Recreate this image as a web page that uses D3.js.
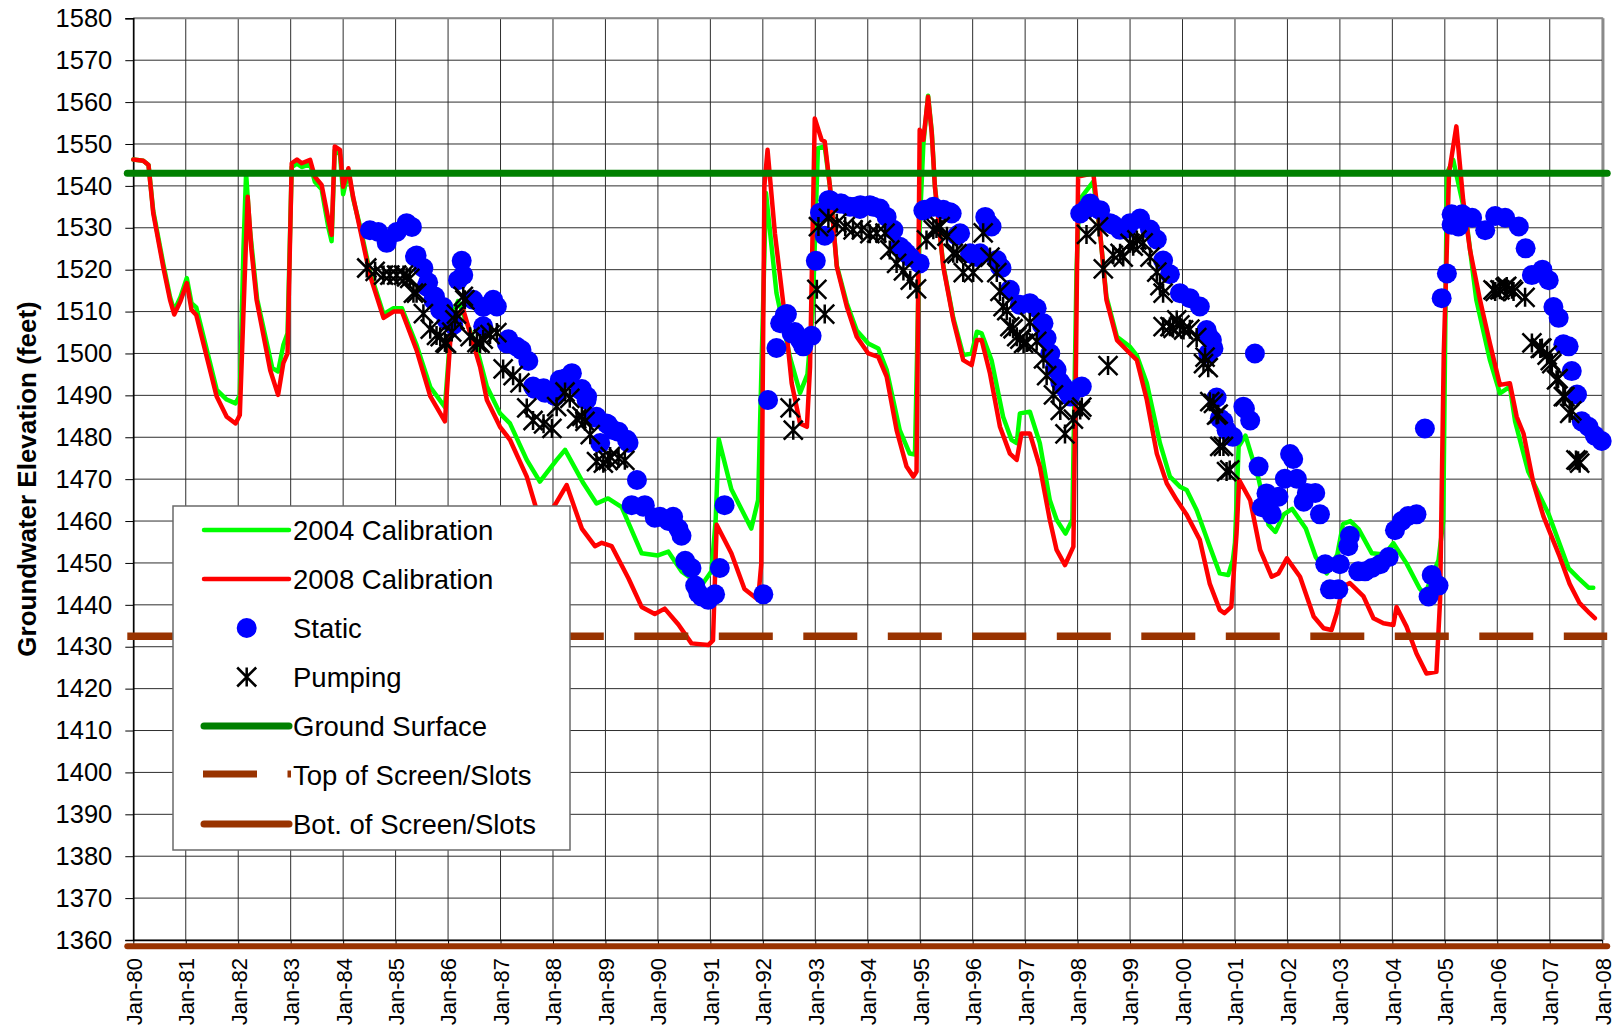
<!DOCTYPE html>
<html><head><meta charset="utf-8">
<script src="https://cdn.jsdelivr.net/npm/d3@7"></script>
<style>
html,body{margin:0;padding:0;background:#fff;}
svg{display:block;font-family:"Liberation Sans",Arial,sans-serif;}
</style></head>
<body><svg id="chart" width="1615" height="1030"></svg>
<script>
// ---------------- data ----------------
const xTickLabels = ["Jan-80","Jan-81","Jan-82","Jan-83","Jan-84","Jan-85","Jan-86","Jan-87","Jan-88","Jan-89","Jan-90","Jan-91","Jan-92","Jan-93","Jan-94","Jan-95","Jan-96","Jan-97","Jan-98","Jan-99","Jan-00","Jan-01","Jan-02","Jan-03","Jan-04","Jan-05","Jan-06","Jan-07","Jan-08"];
const xTickYears = [1980,1981,1982,1983,1984,1985,1986,1987,1988,1989,1990,1991,1992,1993,1994,1995,1996,1997,1998,1999,2000,2001,2002,2003,2004,2005,2006,2007,2008];
const yTickValues = [1360,1370,1380,1390,1400,1410,1420,1430,1440,1450,1460,1470,1480,1490,1500,1510,1520,1530,1540,1550,1560,1570,1580];

// [decimal year, elevation ft]
const calib2004 = [[1980.00,1546.3],[1980.19,1546.0],[1980.29,1545.0],[1980.38,1534.0],[1980.57,1521.5],[1980.70,1513.5],[1980.78,1510.2],[1980.90,1513.5],[1981.02,1518.0],[1981.11,1512.0],[1981.20,1511.0],[1981.59,1491.3],[1981.78,1489.0],[1981.95,1488.1],[1982.03,1490.0],[1982.10,1525.0],[1982.15,1543.0],[1982.22,1530.0],[1982.36,1513.0],[1982.65,1496.5],[1982.76,1495.7],[1982.86,1502.0],[1982.94,1504.8],[1983.02,1544.5],[1983.12,1545.3],[1983.21,1544.5],[1983.37,1545.2],[1983.46,1541.0],[1983.59,1539.2],[1983.72,1530.0],[1983.78,1526.8],[1983.84,1548.5],[1983.94,1547.5],[1984.00,1538.0],[1984.10,1543.5],[1984.19,1537.0],[1984.32,1530.5],[1984.51,1519.5],[1984.77,1509.4],[1984.96,1510.8],[1985.12,1510.8],[1985.40,1502.0],[1985.66,1492.0],[1985.94,1487.2],[1986.07,1509.0],[1986.19,1512.5],[1986.54,1501.6],[1986.74,1492.1],[1986.99,1485.7],[1987.18,1483.3],[1987.50,1474.6],[1987.75,1469.4],[1988.07,1474.6],[1988.23,1477.0],[1988.58,1469.0],[1988.83,1464.2],[1989.05,1465.4],[1989.31,1463.3],[1989.69,1452.3],[1990.00,1451.8],[1990.20,1452.7],[1990.45,1448.0],[1990.83,1444.6],[1991.02,1448.0],[1991.10,1460.0],[1991.16,1479.5],[1991.40,1467.6],[1991.78,1458.2],[1991.91,1465.0],[1992.06,1538.3],[1992.26,1514.4],[1992.52,1499.0],[1992.71,1490.6],[1992.85,1495.0],[1992.95,1510.0],[1993.05,1549.0],[1993.18,1549.4],[1993.28,1539.8],[1993.41,1521.0],[1993.60,1512.0],[1993.79,1505.5],[1994.01,1502.4],[1994.20,1501.2],[1994.36,1496.1],[1994.61,1481.7],[1994.80,1476.1],[1994.90,1475.9],[1994.99,1530.0],[1995.06,1550.0],[1995.15,1561.5],[1995.22,1553.0],[1995.28,1540.0],[1995.44,1521.0],[1995.63,1508.5],[1995.82,1499.6],[1995.98,1500.0],[1996.08,1505.2],[1996.17,1504.8],[1996.36,1498.4],[1996.58,1484.9],[1996.74,1479.4],[1996.84,1478.6],[1996.90,1485.7],[1997.09,1486.1],[1997.28,1478.6],[1997.47,1465.0],[1997.60,1460.3],[1997.77,1457.0],[1997.90,1460.3],[1997.98,1520.0],[1998.03,1536.6],[1998.30,1541.0],[1998.43,1528.5],[1998.55,1513.5],[1998.75,1504.0],[1999.00,1501.6],[1999.13,1499.5],[1999.32,1492.9],[1999.57,1478.6],[1999.76,1470.6],[1999.95,1468.2],[2000.08,1467.4],[2000.27,1462.6],[2000.52,1453.9],[2000.71,1447.5],[2000.87,1447.1],[2000.96,1450.7],[2001.00,1454.8],[2001.07,1477.8],[2001.20,1480.4],[2001.45,1470.1],[2001.64,1459.1],[2001.77,1457.4],[2001.93,1461.6],[2002.09,1462.9],[2002.35,1458.2],[2002.54,1451.4],[2002.75,1447.5],[2002.95,1452.0],[2003.06,1459.3],[2003.20,1460.0],[2003.36,1458.0],[2003.61,1452.3],[2003.85,1452.0],[2004.02,1454.7],[2004.27,1449.9],[2004.52,1443.9],[2004.62,1442.5],[2004.88,1450.7],[2004.97,1460.0],[2005.04,1543.0],[2005.16,1546.2],[2005.41,1531.9],[2005.60,1512.8],[2005.86,1498.4],[2006.05,1490.5],[2006.24,1492.1],[2006.34,1483.8],[2006.59,1471.8],[2006.98,1461.6],[2007.36,1448.7],[2007.55,1446.3],[2007.74,1444.1],[2007.83,1444.1]];

const calib2008 = [[1980.00,1546.3],[1980.19,1546.0],[1980.29,1545.0],[1980.38,1533.5],[1980.57,1520.7],[1980.70,1512.8],[1980.78,1509.3],[1980.90,1512.5],[1981.02,1516.8],[1981.11,1510.4],[1981.20,1509.2],[1981.59,1489.7],[1981.78,1484.9],[1981.95,1483.3],[1982.03,1485.3],[1982.10,1510.0],[1982.18,1537.4],[1982.25,1525.0],[1982.35,1512.8],[1982.61,1496.0],[1982.76,1490.1],[1982.86,1497.7],[1982.94,1500.0],[1983.02,1545.4],[1983.12,1546.3],[1983.21,1545.4],[1983.37,1546.2],[1983.46,1542.2],[1983.59,1540.2],[1983.72,1531.9],[1983.78,1528.3],[1983.84,1549.4],[1983.94,1548.6],[1984.00,1539.8],[1984.10,1544.2],[1984.19,1537.4],[1984.32,1529.8],[1984.51,1518.7],[1984.77,1508.5],[1984.96,1510.0],[1985.12,1510.0],[1985.40,1500.8],[1985.66,1489.8],[1985.94,1483.8],[1986.07,1508.4],[1986.29,1510.4],[1986.61,1496.8],[1986.74,1488.9],[1986.99,1482.5],[1987.18,1479.4],[1987.50,1470.6],[1987.69,1462.6],[1987.85,1460.5],[1988.05,1464.1],[1988.26,1468.6],[1988.55,1458.2],[1988.80,1454.0],[1988.93,1454.8],[1989.12,1454.0],[1989.44,1446.3],[1989.69,1439.5],[1989.94,1437.8],[1990.13,1439.1],[1990.39,1435.3],[1990.64,1430.8],[1990.96,1430.4],[1991.05,1431.5],[1991.12,1459.1],[1991.40,1452.3],[1991.65,1443.8],[1991.91,1441.2],[1991.97,1449.7],[1992.03,1540.0],[1992.09,1548.6],[1992.23,1528.7],[1992.42,1508.8],[1992.55,1492.9],[1992.71,1483.3],[1992.84,1482.5],[1992.90,1496.8],[1992.99,1556.1],[1993.12,1551.0],[1993.18,1550.6],[1993.28,1539.8],[1993.41,1520.7],[1993.60,1511.2],[1993.79,1504.0],[1994.01,1500.0],[1994.20,1499.2],[1994.36,1494.5],[1994.55,1481.7],[1994.74,1473.0],[1994.87,1470.6],[1994.93,1471.8],[1994.99,1553.4],[1995.06,1551.0],[1995.15,1561.3],[1995.22,1552.6],[1995.28,1539.8],[1995.44,1520.7],[1995.63,1508.0],[1995.82,1498.4],[1995.98,1497.2],[1996.08,1503.2],[1996.17,1503.2],[1996.33,1495.2],[1996.52,1482.5],[1996.71,1476.1],[1996.84,1474.6],[1996.93,1480.9],[1997.09,1480.9],[1997.28,1473.0],[1997.47,1460.3],[1997.60,1453.1],[1997.76,1449.5],[1997.92,1453.9],[1997.97,1500.0],[1998.01,1542.2],[1998.30,1543.0],[1998.43,1528.7],[1998.55,1512.8],[1998.75,1503.2],[1999.00,1500.0],[1999.13,1498.4],[1999.32,1488.9],[1999.51,1476.1],[1999.70,1469.0],[1999.89,1465.0],[2000.08,1461.5],[2000.33,1455.5],[2000.52,1445.0],[2000.71,1438.8],[2000.80,1438.0],[2000.93,1439.5],[2001.03,1457.0],[2001.08,1469.8],[2001.29,1465.0],[2001.48,1453.1],[2001.70,1446.7],[2001.83,1447.5],[2001.99,1451.1],[2002.24,1446.7],[2002.50,1437.2],[2002.69,1434.4],[2002.84,1434.0],[2002.94,1438.0],[2003.06,1444.4],[2003.19,1445.2],[2003.45,1442.0],[2003.64,1436.8],[2003.83,1435.6],[2004.02,1435.2],[2004.08,1439.5],[2004.27,1434.8],[2004.46,1428.4],[2004.65,1423.6],[2004.84,1424.0],[2004.91,1441.2],[2004.98,1500.0],[2005.08,1543.0],[2005.22,1554.2],[2005.35,1536.6],[2005.48,1524.7],[2005.67,1512.8],[2005.86,1502.4],[2006.05,1492.5],[2006.24,1492.9],[2006.37,1484.9],[2006.50,1480.9],[2006.69,1469.0],[2006.88,1461.1],[2007.19,1451.5],[2007.38,1445.0],[2007.57,1440.4],[2007.76,1438.0],[2007.86,1436.8]];

const staticLevels = [[1984.51,1529.4],[1984.67,1529.0],[1984.83,1526.4],[1985.02,1529.0],[1985.21,1531.1],[1985.31,1530.2],[1985.40,1523.4],[1985.37,1523.1],[1985.53,1520.4],[1985.59,1516.0],[1985.62,1517.0],[1985.72,1512.8],[1985.75,1513.6],[1985.85,1510.4],[1985.91,1511.1],[1985.97,1508.0],[1986.04,1507.7],[1986.10,1506.8],[1986.19,1517.5],[1986.26,1522.1],[1986.29,1518.7],[1986.48,1512.8],[1986.67,1511.1],[1986.67,1506.5],[1986.86,1512.8],[1986.93,1511.2],[1987.12,1502.4],[1987.15,1503.4],[1987.31,1501.6],[1987.40,1500.8],[1987.53,1498.2],[1987.62,1492.1],[1987.66,1491.5],[1987.82,1491.7],[1987.85,1490.6],[1988.01,1491.3],[1988.04,1489.8],[1988.13,1493.7],[1988.23,1494.0],[1988.36,1495.3],[1988.52,1491.3],[1988.55,1491.5],[1988.65,1489.7],[1988.64,1488.9],[1988.80,1484.7],[1988.83,1484.9],[1989.02,1483.3],[1989.05,1483.0],[1989.15,1481.7],[1989.25,1481.3],[1989.41,1479.4],[1989.44,1478.7],[1988.90,1478.6],[1989.60,1469.8],[1989.50,1463.8],[1989.72,1463.4],[1989.75,1463.8],[1989.94,1460.8],[1990.04,1461.0],[1990.20,1460.0],[1990.29,1461.0],[1990.39,1458.2],[1990.45,1456.5],[1990.52,1450.5],[1990.64,1448.8],[1990.71,1444.6],[1990.77,1442.8],[1990.83,1442.0],[1990.96,1441.2],[1991.09,1442.5],[1991.18,1448.8],[1991.27,1463.8],[1992.01,1442.5],[1992.10,1488.9],[1992.26,1501.3],[1992.33,1507.2],[1992.42,1509.2],[1992.46,1509.4],[1992.55,1504.8],[1992.61,1505.1],[1992.71,1503.2],[1992.77,1501.7],[1992.93,1504.2],[1993.01,1522.1],[1993.09,1533.6],[1993.18,1528.1],[1993.25,1536.6],[1993.28,1536.6],[1993.47,1535.8],[1993.50,1535.8],[1993.66,1535.0],[1993.76,1535.0],[1993.86,1535.4],[1993.85,1534.5],[1994.04,1535.4],[1994.11,1535.0],[1994.23,1534.6],[1994.36,1532.6],[1994.49,1529.5],[1994.61,1525.5],[1994.68,1524.7],[1994.74,1523.9],[1994.81,1523.0],[1994.99,1521.5],[1995.06,1534.1],[1995.09,1534.3],[1995.25,1535.0],[1995.44,1534.3],[1995.57,1533.7],[1995.60,1533.4],[1995.70,1528.1],[1995.76,1528.7],[1995.95,1523.9],[1996.08,1523.0],[1996.14,1523.9],[1996.24,1532.6],[1996.30,1531.1],[1996.36,1530.3],[1996.46,1522.3],[1996.52,1520.7],[1996.55,1520.4],[1996.71,1515.2],[1996.90,1511.6],[1997.09,1512.0],[1997.22,1510.8],[1997.32,1506.8],[1997.35,1507.2],[1997.41,1503.7],[1997.48,1500.0],[1997.57,1496.6],[1997.60,1496.1],[1997.67,1493.2],[1997.73,1492.1],[1997.82,1490.6],[1997.86,1489.7],[1998.05,1491.9],[1998.08,1492.1],[1998.05,1533.4],[1998.17,1534.5],[1998.24,1535.8],[1998.43,1534.2],[1998.62,1531.1],[1998.68,1530.7],[1998.81,1529.5],[1998.94,1529.8],[1999.00,1531.1],[1999.19,1532.2],[1999.38,1529.6],[1999.51,1527.2],[1999.63,1522.2],[1999.76,1518.9],[1999.95,1514.4],[2000.14,1513.2],[2000.33,1511.2],[2000.43,1504.8],[2000.46,1505.6],[2000.49,1504.3],[2000.56,1503.2],[2000.59,1501.2],[2000.49,1500.0],[2000.65,1489.5],[2000.71,1484.5],[2000.78,1483.8],[2000.84,1481.7],[2000.96,1480.1],[2001.16,1487.3],[2001.19,1486.8],[2001.29,1484.0],[2001.38,1500.0],[2001.45,1473.0],[2001.51,1463.3],[2001.60,1466.6],[2001.64,1463.3],[2001.70,1461.6],[2001.83,1465.8],[2001.95,1470.1],[2002.05,1476.0],[2002.11,1474.8],[2002.18,1470.1],[2002.31,1464.6],[2002.37,1466.7],[2002.53,1466.7],[2002.62,1461.6],[2002.72,1449.7],[2002.81,1443.7],[2002.97,1443.7],[2003.00,1449.7],[2003.16,1454.0],[2003.19,1456.5],[2003.35,1448.0],[2003.48,1448.0],[2003.61,1448.8],[2003.77,1449.7],[2003.93,1451.4],[2004.05,1457.8],[2004.18,1460.0],[2004.30,1461.2],[2004.46,1461.6],[2004.62,1482.1],[2004.69,1442.0],[2004.75,1447.1],[2004.88,1444.6],[2004.94,1513.2],[2005.04,1519.1],[2005.13,1530.7],[2005.13,1533.2],[2005.26,1530.3],[2005.33,1533.2],[2005.52,1532.4],[2005.77,1529.4],[2005.96,1532.8],[2006.15,1532.4],[2006.41,1530.3],[2006.54,1525.1],[2006.66,1518.7],[2006.86,1520.0],[2006.98,1517.5],[2007.07,1511.1],[2007.17,1508.5],[2007.26,1502.2],[2007.36,1501.7],[2007.42,1495.8],[2007.52,1490.2],[2007.61,1483.8],[2007.74,1482.5],[2007.86,1480.4],[2007.99,1479.1]];

const pumpingLevels = [[1984.45,1520.4],[1984.61,1519.6],[1984.77,1518.7],[1984.89,1518.7],[1985.02,1518.7],[1985.15,1518.7],[1985.21,1518.3],[1985.27,1517.9],[1985.34,1514.4],[1985.40,1514.4],[1985.53,1509.5],[1985.66,1505.8],[1985.78,1504.3],[1985.85,1504.0],[1985.94,1502.6],[1985.97,1502.4],[1986.07,1505.1],[1986.13,1508.0],[1986.16,1509.4],[1986.29,1513.6],[1986.32,1512.8],[1986.42,1504.0],[1986.55,1502.6],[1986.61,1502.4],[1986.67,1503.4],[1986.80,1504.5],[1986.93,1505.0],[1987.05,1496.3],[1987.24,1494.7],[1987.37,1493.0],[1987.50,1487.0],[1987.62,1484.0],[1987.82,1483.2],[1987.98,1482.1],[1988.07,1487.3],[1988.23,1490.8],[1988.32,1489.3],[1988.45,1484.4],[1988.55,1485.0],[1988.61,1483.8],[1988.71,1480.6],[1988.83,1474.2],[1988.96,1473.8],[1989.05,1474.5],[1989.09,1475.4],[1989.25,1475.0],[1989.37,1474.5],[1992.52,1487.0],[1992.58,1481.7],[1993.03,1515.3],[1993.18,1509.4],[1993.06,1530.3],[1993.25,1532.3],[1993.41,1531.1],[1993.57,1530.3],[1993.72,1529.5],[1993.88,1529.5],[1994.04,1528.6],[1994.17,1528.7],[1994.33,1528.7],[1994.42,1524.7],[1994.55,1521.5],[1994.68,1519.7],[1994.81,1517.5],[1994.93,1515.4],[1995.12,1527.1],[1995.25,1529.5],[1995.31,1529.8],[1995.38,1530.3],[1995.51,1528.0],[1995.63,1523.9],[1995.70,1523.8],[1995.82,1519.3],[1996.01,1519.3],[1996.20,1528.8],[1996.33,1523.0],[1996.46,1519.3],[1996.52,1514.8],[1996.58,1511.2],[1996.65,1510.2],[1996.71,1506.4],[1996.77,1505.9],[1996.84,1504.0],[1996.90,1503.4],[1996.97,1502.4],[1997.03,1502.6],[1997.09,1507.4],[1997.22,1502.9],[1997.35,1498.7],[1997.41,1494.7],[1997.54,1490.1],[1997.67,1486.4],[1997.76,1480.8],[1997.92,1484.3],[1998.05,1486.5],[1998.08,1487.2],[1998.17,1528.4],[1998.40,1530.2],[1998.49,1520.2],[1998.58,1497.1],[1998.68,1523.5],[1998.81,1523.9],[1998.87,1523.0],[1999.00,1526.3],[1999.06,1525.6],[1999.13,1527.1],[1999.25,1526.4],[1999.38,1523.0],[1999.51,1519.4],[1999.57,1516.2],[1999.63,1514.4],[1999.63,1506.4],[1999.76,1506.4],[1999.82,1506.0],[1999.89,1508.0],[1999.95,1506.8],[2000.02,1505.6],[2000.14,1505.8],[2000.27,1503.8],[2000.40,1497.6],[2000.43,1499.1],[2000.49,1496.6],[2000.52,1488.5],[2000.59,1488.1],[2000.65,1485.3],[2000.68,1485.5],[2000.71,1477.8],[2000.78,1477.8],[2000.84,1471.8],[2000.90,1472.2],[2005.92,1515.2],[2005.96,1514.8],[2006.05,1515.2],[2006.15,1515.7],[2006.18,1516.0],[2006.28,1515.3],[2006.31,1514.8],[2006.53,1513.4],[2006.66,1502.5],[2006.82,1501.2],[2006.85,1501.3],[2006.95,1499.6],[2007.01,1498.3],[2007.04,1497.6],[2007.13,1493.7],[2007.16,1494.0],[2007.26,1489.7],[2007.29,1489.7],[2007.38,1485.7],[2007.42,1486.3],[2007.50,1474.6],[2007.54,1474.4],[2007.57,1473.8]];

const groundSurface = 1543;
const topOfScreen = 1432.5;
const botOfScreen = 1358.5;
const legendLabels = ["2004 Calibration","2008 Calibration","Static","Pumping","Ground Surface","Top of Screen/Slots","Bot. of Screen/Slots"];
const yAxisTitle = "Groundwater Elevation (feet)";

// ---------------- drawing ----------------
const svg = d3.select("#chart");
const P = {left:133.3, right:1602.2, top:18.3, bottom:940};
const x = d3.scaleLinear().domain([1980,2008]).range([P.left,P.right]);
const y = d3.scaleLinear().domain([1360,1580]).range([P.bottom,P.top]);

const C = {g04:"#00ff00", r08:"#ff0000", stat:"#0000ff", pump:"#000000", ground:"#008000", screen:"#993300", grid:"#2e2e2e"};

// gridlines
const grid = svg.append("g");
grid.selectAll("line.h").data(yTickValues).enter().append("line")
  .attr("x1",P.left).attr("x2",P.right)
  .attr("y1",d=>y(d)).attr("y2",d=>y(d))
  .attr("stroke",C.grid).attr("stroke-width",1);
grid.selectAll("line.v").data(xTickYears).enter().append("line")
  .attr("x1",d=>x(d)).attr("x2",d=>x(d))
  .attr("y1",P.top).attr("y2",P.bottom)
  .attr("stroke",C.grid).attr("stroke-width",1);

// plot border (top/right gray)
svg.append("line").attr("x1",P.left).attr("x2",P.right+1).attr("y1",P.top).attr("y2",P.top).attr("stroke","#8a8a8a").attr("stroke-width",2);
svg.append("line").attr("x1",P.right+1).attr("x2",P.right+1).attr("y1",P.top).attr("y2",P.bottom).attr("stroke","#8a8a8a").attr("stroke-width",2.5);

// y axis
const yAx = svg.append("g").attr("transform",`translate(${P.left},0)`)
  .call(d3.axisLeft(y).tickValues(yTickValues).tickSize(8).tickPadding(13).tickFormat(d3.format("d")));
yAx.select(".domain").attr("stroke","#000").attr("stroke-width",1.5);
yAx.selectAll(".tick line").attr("stroke","#000");
yAx.selectAll("text").attr("font-size","25.5px").attr("fill","#000").attr("font-family","Liberation Sans, Arial, sans-serif");

// x axis
const xAx = svg.append("g").attr("transform",`translate(0,${P.bottom})`)
  .call(d3.axisBottom(x).tickValues(xTickYears).tickSize(6).tickSizeOuter(0).tickFormat((d,i)=>xTickLabels[i]));
xAx.select(".domain").attr("stroke","#000").attr("stroke-width",1.5);
xAx.selectAll(".tick line").attr("stroke","#000");
xAx.selectAll("text").attr("font-size","22px").attr("fill","#000")
  .attr("font-family","Liberation Sans, Arial, sans-serif")
  .attr("transform","rotate(-90)").attr("text-anchor","end")
  .attr("x",-18).attr("y",0).attr("dy","0.36em");

// y axis title
svg.append("text").attr("transform","translate(27,479) rotate(-90)")
  .attr("text-anchor","middle").attr("dominant-baseline","central")
  .attr("font-size","26px").attr("font-weight","bold").attr("fill","#000")
  .text(yAxisTitle);

// calibration lines
const line = d3.line().x(d=>x(d[0])).y(d=>y(d[1]));
svg.append("path").datum(calib2004).attr("d",line).attr("fill","none")
  .attr("stroke",C.g04).attr("stroke-width",4.5).attr("stroke-linejoin","round").attr("stroke-linecap","round");
svg.append("path").datum(calib2008).attr("d",line).attr("fill","none")
  .attr("stroke",C.r08).attr("stroke-width",4.5).attr("stroke-linejoin","round").attr("stroke-linecap","round");

// static points
svg.append("g").selectAll("circle").data(staticLevels).enter().append("circle")
  .attr("cx",d=>x(d[0])).attr("cy",d=>y(d[1])).attr("r",10).attr("fill",C.stat);

// pumping points (asterisk)
const star = s => `M${-s},${-s}L${s},${s}M${-s},${s}L${s},${-s}M0,${-s}L0,${s}`;
svg.append("g").selectAll("path").data(pumpingLevels).enter().append("path")
  .attr("transform",d=>`translate(${x(d[0])},${y(d[1])})`)
  .attr("d",star(9.5)).attr("fill","none").attr("stroke",C.pump).attr("stroke-width",2.5);

// reference lines
const xL = P.left-6, xR = P.right+5;
svg.append("line").attr("x1",xL).attr("x2",xR).attr("y1",y(groundSurface)).attr("y2",y(groundSurface))
  .attr("stroke",C.ground).attr("stroke-width",7).attr("stroke-linecap","round");
svg.append("line").attr("x1",xL).attr("x2",xR).attr("y1",y(topOfScreen)).attr("y2",y(topOfScreen))
  .attr("stroke",C.screen).attr("stroke-width",7.5).attr("stroke-dasharray","54,30.5");
svg.append("line").attr("x1",xL).attr("x2",xR).attr("y1",y(botOfScreen)).attr("y2",y(botOfScreen))
  .attr("stroke",C.screen).attr("stroke-width",6).attr("stroke-linecap","round");

// legend
const lg = svg.append("g");
lg.append("rect").attr("x",173).attr("y",506).attr("width",397).attr("height",344)
  .attr("fill","#fff").attr("stroke","#6a6a6a").attr("stroke-width",1.5);
const rowBase = 540, rowStep = 49;
const sx1 = 204, sx2 = 289, sxc = 246.7;
legendLabels.forEach((lab,i)=>{
  const b = rowBase + i*rowStep, cy = b - 10;
  if(i===0||i===1){
    lg.append("line").attr("x1",sx1).attr("x2",sx2).attr("y1",cy).attr("y2",cy)
      .attr("stroke",i===0?C.g04:C.r08).attr("stroke-width",4.5).attr("stroke-linecap","round");
  } else if(i===2){
    lg.append("circle").attr("cx",sxc).attr("cy",cy).attr("r",10).attr("fill",C.stat);
  } else if(i===3){
    lg.append("path").attr("transform",`translate(${sxc},${cy})`).attr("d",star(9.5))
      .attr("fill","none").attr("stroke",C.pump).attr("stroke-width",2.5);
  } else if(i===4){
    lg.append("line").attr("x1",sx1).attr("x2",sx2).attr("y1",cy).attr("y2",cy)
      .attr("stroke",C.ground).attr("stroke-width",7).attr("stroke-linecap","round");
  } else if(i===5){
    lg.append("line").attr("x1",203).attr("x2",291).attr("y1",cy-1).attr("y2",cy-1)
      .attr("stroke",C.screen).attr("stroke-width",7).attr("stroke-dasharray","54,30.5");
  } else {
    lg.append("line").attr("x1",sx1).attr("x2",sx2).attr("y1",cy).attr("y2",cy)
      .attr("stroke",C.screen).attr("stroke-width",7).attr("stroke-linecap","round");
  }
  lg.append("text").attr("x",293).attr("y",b).attr("font-size","27.5px").attr("fill","#000").text(lab);
});
</script></body></html>
